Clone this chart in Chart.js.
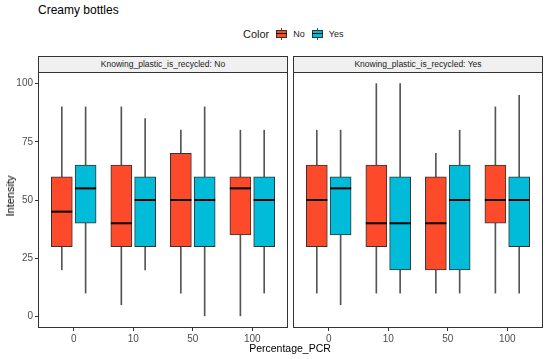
<!DOCTYPE html>
<html lang="en">
<head>
    <meta charset="UTF-8">
    <title>Creamy bottles</title>
    <script src="https://cdn.jsdelivr.net/npm/chart.js@4.4.1/dist/chart.umd.min.js"></script>
    <style>
        body { margin: 0; background: #fff; font-family: "Liberation Sans", Arial, sans-serif; }
        #wrap { position: relative; width: 550px; height: 359px; overflow: hidden; }
        .abs { position: absolute; }
        #title { left: 38px; top: 3px; font-size: 12px; color: #000; }
        #legend { left: 243px; top: 27px; height: 14px; display: flex; align-items: center; font-size: 9px; color: #1a1a1a; }
        #legend .lab { font-size: 11px; margin-right: 7px; }
        .key { position: relative; width: 11px; height: 12px; margin-right: 6px; }
        .key .wh { position: absolute; left: 5px; top: 0; width: 1px; height: 12px; background: #4d4d4d; }
        .key .bx { position: absolute; left: 0; top: 2px; width: 9px; height: 6px; border: 1px solid #333; }
        .key .md { position: absolute; left: 0; top: 5px; width: 11px; height: 1px; background: #000; }
        .strip { top: 56px; height: 15px; background: #f0f0f0; border: 1px solid #333; border-bottom: none; font-size: 8.5px; color: #1a1a1a; text-align: center; line-height: 15px; box-sizing: content-box; }
        #ytitle { left: 10px; top: 196px; font-size: 11px; color: #000; transform: translate(-50%, -50%) rotate(-90deg); white-space: nowrap; }
        #xtitle { left: 290px; top: 342px; font-size: 10.5px; color: #000; transform: translateX(-50%); white-space: nowrap; }
        canvas { position: absolute; }
    </style>
</head>
<body>
<div id="wrap">
    <div id="title" class="abs">Creamy bottles</div>
    <div id="legend" class="abs">
        <span class="lab">Color</span>
        <div class="key"><div class="wh"></div><div class="bx" style="background:#FC4A2B"></div><div class="md"></div></div>
        <span style="margin-right:7px">No</span>
        <div class="key"><div class="wh"></div><div class="bx" style="background:#00BCD8"></div><div class="md"></div></div>
        <span>Yes</span>
    </div>
    <div class="abs strip" style="left:38px; width:248px;">Knowing_plastic_is_recycled: No</div>
    <div class="abs strip" style="left:293px; width:248px;">Knowing_plastic_is_recycled: Yes</div>
    <canvas id="left" width="292" height="293" style="left:0; top:66px;"></canvas>
    <canvas id="right" width="258" height="293" style="left:292px; top:66px;"></canvas>
    <div id="ytitle" class="abs">Intensity</div>
    <div id="xtitle" class="abs">Percentage_PCR</div>
</div>

<script>
// categorie asse x
var categories = ["0", "10", "50", "100"];
var yTicks = [0, 25, 50, 75, 100];

// Knowing_plastic_is_recycled: No
var noLoLeft   = [20, 5, 10, 0];
var noQ1Left   = [30, 30, 30, 35];
var noMedLeft  = [45, 40, 50, 55];
var noQ3Left   = [60, 65, 70, 60];
var noHiLeft   = [90, 90, 80, 80];
var yesLoLeft  = [10, 20, 0, 10];
var yesQ1Left  = [40, 30, 30, 30];
var yesMedLeft = [55, 50, 50, 50];
var yesQ3Left  = [65, 60, 60, 60];
var yesHiLeft  = [90, 85, 90, 80];

// Knowing_plastic_is_recycled: Yes
var noLoRight   = [10, 10, 10, 10];
var noQ1Right   = [30, 30, 20, 40];
var noMedRight  = [50, 40, 40, 50];
var noQ3Right   = [65, 65, 60, 65];
var noHiRight   = [80, 100, 70, 90];
var yesLoRight  = [5, 10, 10, 10];
var yesQ1Right  = [35, 20, 20, 30];
var yesMedRight = [55, 40, 50, 50];
var yesQ3Right  = [60, 60, 65, 60];
var yesHiRight  = [80, 100, 80, 95];

var colNo = "#FC4A2B";
var colYes = "#00BCD8";

// cornice del pannello
var framePlugin = {
    id: "frame",
    afterDraw: function(chart) {
        var a = chart.chartArea;
        var ctx = chart.ctx;
        ctx.save();
        ctx.strokeStyle = "#333";
        ctx.lineWidth = 1;
        ctx.strokeRect(Math.round(a.left) + 0.5, Math.round(a.top) + 0.5,
            Math.round(a.right - a.left) - 1, Math.round(a.bottom - a.top) - 1);
        ctx.restore();
    }
};

function pts(arr, off, fn) {
    return arr.map(function(v, i) { return { x: i + off, y: fn(i) }; });
}

function noPad(sc) {
    sc.paddingTop = 0; sc.paddingBottom = 0; sc.paddingLeft = 0; sc.paddingRight = 0;
}

function makePanel(id, s, showY) {
    var datasets = [];
    var groups = [
        { off: -0.2, color: colNo, lo: s.noLo, q1: s.noQ1, med: s.noMed, q3: s.noQ3, hi: s.noHi },
        { off: 0.2, color: colYes, lo: s.yesLo, q1: s.yesQ1, med: s.yesMed, q3: s.yesQ3, hi: s.yesHi }
    ];
    groups.forEach(function(g) {
        // baffi
        datasets.push({
            type: "bar", order: 3, grouped: false,
            data: pts(g.lo, g.off, function(i) { return [g.lo[i], g.hi[i]]; }),
            backgroundColor: "#555", borderWidth: 0, maxBarThickness: 1,
            barPercentage: 1, categoryPercentage: 1
        });
        // scatola
        datasets.push({
            type: "bar", order: 2, grouped: false,
            data: pts(g.q1, g.off, function(i) { return [g.q1[i], g.q3[i]]; }),
            backgroundColor: g.color, borderColor: "#333", borderWidth: 1, borderSkipped: false,
            maxBarThickness: 21, barPercentage: 1, categoryPercentage: 1
        });
        // mediana
        datasets.push({
            type: "scatter", order: 1,
            data: pts(g.med, g.off, function(i) { return g.med[i]; }),
            pointStyle: "line", pointRadius: 10.5, pointHoverRadius: 10.5,
            borderColor: "#000", borderWidth: 2
        });
    });

    return new Chart(document.getElementById(id), {
        type: "bar",
        data: { datasets: datasets },
        plugins: [framePlugin],
        options: {
            responsive: false,
            animation: false,
            devicePixelRatio: 1,
            layout: {
                autoPadding: false,
                padding: showY ? { top: 6, right: 4, left: 0, bottom: 0 } : { top: 6, right: 7, left: 1, bottom: 0 }
            },
            plugins: { legend: { display: false }, tooltip: { enabled: false } },
            scales: {
                x: {
                    type: "linear", min: -0.6, max: 3.6, offset: false,
                    afterBuildTicks: function(sc) { sc.ticks = categories.map(function(c, i) { return { value: i }; }); },
                    afterFit: function(sc) { sc.height = 31; noPad(sc); },
                    ticks: {
                        callback: function(v) { return categories[v]; },
                        color: "#4d4d4d", font: { size: 10, family: "Liberation Sans, Arial" },
                        padding: 2, maxRotation: 0, autoSkip: false
                    },
                    grid: { offset: false, drawOnChartArea: false, tickLength: 3, color: "#333" },
                    border: { display: false }
                },
                y: {
                    display: showY, min: -5, max: 105,
                    afterBuildTicks: function(sc) { sc.ticks = yTicks.map(function(v) { return { value: v }; }); },
                    afterFit: function(sc) { if (showY) sc.width = 38; noPad(sc); },
                    ticks: { color: "#4d4d4d", font: { size: 10, family: "Liberation Sans, Arial" }, padding: 2 },
                    grid: { drawOnChartArea: false, tickLength: 3, color: "#333" },
                    border: { display: false }
                }
            }
        }
    });
}

makePanel("left", {
    noLo: noLoLeft, noQ1: noQ1Left, noMed: noMedLeft, noQ3: noQ3Left, noHi: noHiLeft,
    yesLo: yesLoLeft, yesQ1: yesQ1Left, yesMed: yesMedLeft, yesQ3: yesQ3Left, yesHi: yesHiLeft
}, true);
makePanel("right", {
    noLo: noLoRight, noQ1: noQ1Right, noMed: noMedRight, noQ3: noQ3Right, noHi: noHiRight,
    yesLo: yesLoRight, yesQ1: yesQ1Right, yesMed: yesMedRight, yesQ3: yesQ3Right, yesHi: yesHiRight
}, false);
</script>
</body>
</html>
